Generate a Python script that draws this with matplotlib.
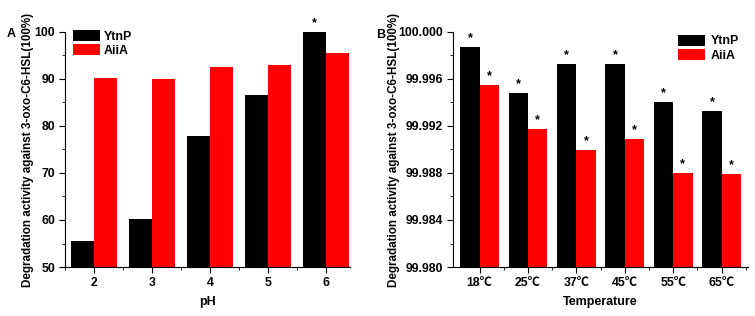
import numpy as np
import matplotlib
matplotlib.use('Agg')
import matplotlib.pyplot as plt
from matplotlib.ticker import MultipleLocator, FormatStrFormatter

plt.rcParams['font.family'] = ['Liberation Sans', 'Noto Sans CJK SC', 'DejaVu Sans']
plt.rcParams['font.weight'] = 'bold'

# panel A: pH
ph_labels = ['2', '3', '4', '5', '6']
ph_ytnp = [55.5, 60.3, 77.9, 86.5, 100.0]
ph_aiia = [90.1, 90.0, 92.5, 93.0, 95.6]
ph_star_ytnp = [False, False, False, False, True]

# panel B: temperature
temp_labels = ['18\u2103', '25\u2103', '37\u2103', '45\u2103', '55\u2103', '65\u2103']
temp_ytnp = [99.99870, 99.99484, 99.99725, 99.99725, 99.99407, 99.99325]
temp_aiia = [99.99552, 99.99172, 99.98999, 99.99087, 99.98803, 99.98794]

ylab = 'Degradation activity against 3-oxo-C6-HSL(100%)'
w = 0.4
tick_fs = 8.8

fig = plt.figure(figsize=(7.55, 3.16), dpi=100)
axA = fig.add_axes([0.086, 0.155, 0.378, 0.744])
axB = fig.add_axes([0.600, 0.155, 0.391, 0.744])


def style(ax):
    for s in ['top', 'right']:
        ax.spines[s].set_visible(False)
    ax.tick_params(which='both', direction='out', labelsize=tick_fs)
    ax.tick_params(which='major', length=4, pad=3)
    ax.tick_params(which='minor', length=2.5)
    for lab in ax.get_xticklabels() + ax.get_yticklabels():
        lab.set_fontweight('bold')


def leg(ax, **kw):
    ax.legend(frameon=False, handlelength=2.2, handleheight=1.05, labelspacing=0.1,
              borderaxespad=0, prop={'weight': 'bold', 'size': 8.9}, **kw)


def star(ax, x, v):
    ax.annotate('*', (x, v), xytext=(0, 2), textcoords='offset points',
                ha='center', va='bottom', fontsize=9, fontweight='bold',
                annotation_clip=False)


# A
xa = np.arange(2, 2 + len(ph_labels))
axA.bar(xa - w / 2, ph_ytnp, w, color='black', label='YtnP')
axA.bar(xa + w / 2, ph_aiia, w, color='#ff0000', label='AiiA')
axA.set_xlim(1.5, 6.42)
axA.set_ylim(50, 100)
axA.set_xticks(xa)
axA.set_xticklabels(ph_labels)
axA.yaxis.set_major_locator(MultipleLocator(10))
axA.yaxis.set_minor_locator(MultipleLocator(5))
style(axA)
axA.set_xticks(np.append(xa[:-1] + 0.5, 1.5), minor=True)
for x, v, s in zip(xa, ph_ytnp, ph_star_ytnp):
    if s:
        star(axA, x - w / 2, v)
axA.set_xlabel('pH', fontsize=9, fontweight='bold', labelpad=5)
axA.set_ylabel(ylab, fontsize=8.4, fontweight='bold')
axA.yaxis.set_label_coords(-0.108, 0.5)
leg(axA, loc='upper left', bbox_to_anchor=(0.012, 1.03), handletextpad=0.25)
fig.text(0.009, 0.893, 'A', fontsize=9, fontweight='bold', va='center')

# B
xb = np.arange(len(temp_labels))
axB.bar(xb - w / 2, temp_ytnp, w, color='black', label='YtnP')
axB.bar(xb + w / 2, temp_aiia, w, color='#ff0000', label='AiiA')
axB.set_xlim(-0.55, 5.55)
axB.set_ylim(99.980, 100.000)
axB.set_xticks(xb)
axB.set_xticklabels(temp_labels)
axB.yaxis.set_major_locator(MultipleLocator(0.004))
axB.yaxis.set_minor_locator(MultipleLocator(0.002))
axB.yaxis.set_major_formatter(FormatStrFormatter('%.3f'))
style(axB)
axB.set_xticks(np.append(xb[:-1] + 0.5, 5.5), minor=True)
for x, v in zip(xb, temp_ytnp):
    star(axB, x - w / 2, v)
for x, v in zip(xb, temp_aiia):
    star(axB, x + w / 2, v)
axB.set_xlabel('Temperature', fontsize=9, fontweight='bold', labelpad=5)
axB.set_ylabel(ylab, fontsize=8.4, fontweight='bold')
axB.yaxis.set_label_coords(-0.18, 0.5)
leg(axB, loc='upper right', bbox_to_anchor=(0.985, 1.01), handletextpad=0.45)
fig.text(0.498, 0.889, 'B', fontsize=9, fontweight='bold', va='center')

fig.savefig('out.png', dpi=100)
